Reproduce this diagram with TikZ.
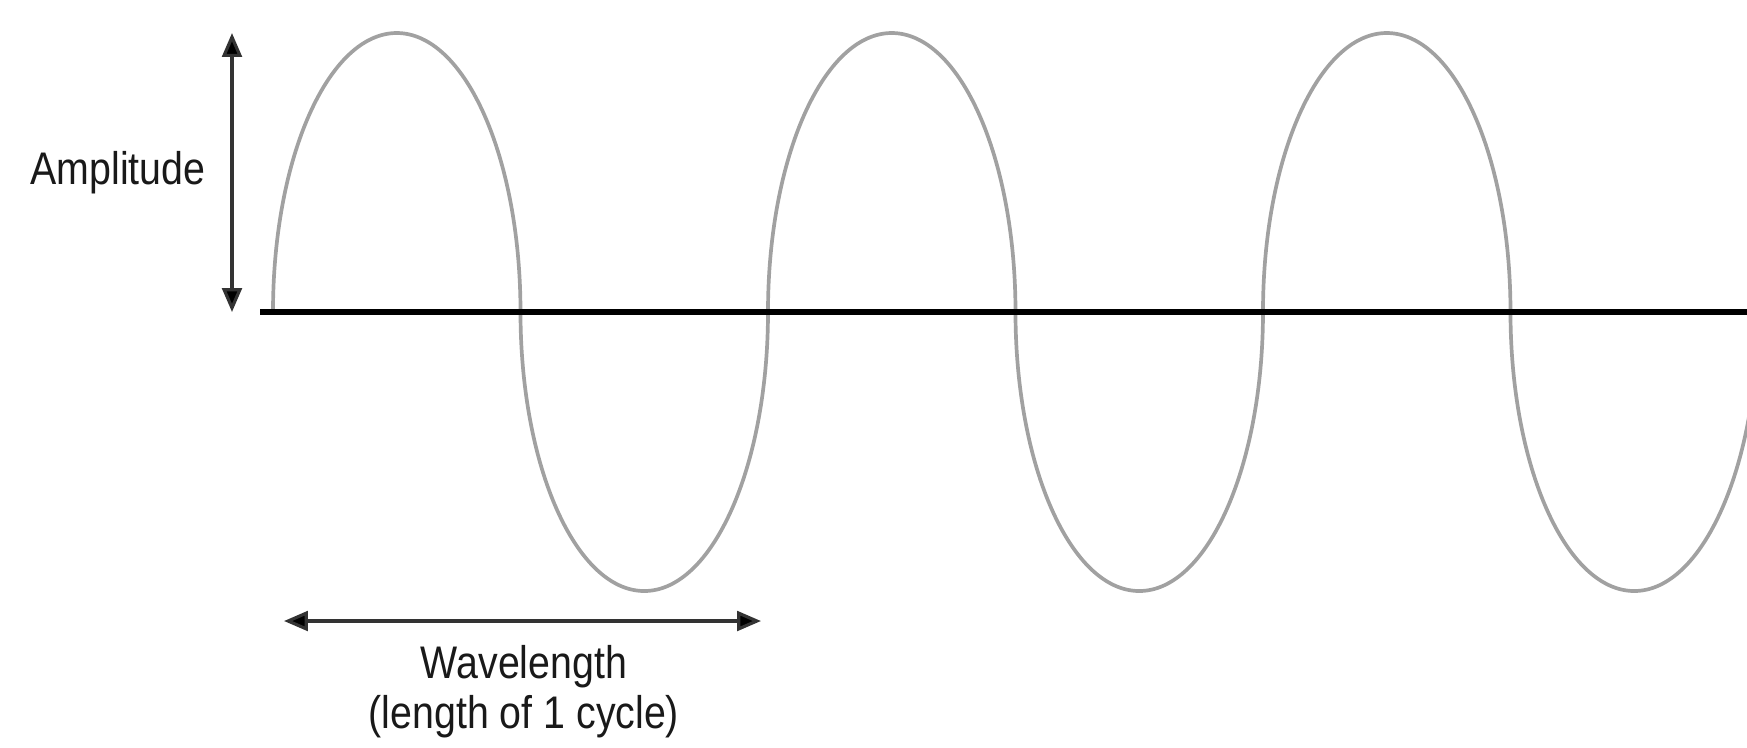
\documentclass[tikz,border=0pt]{standalone}
\usepackage{fontspec}
\usepackage{graphicx}
\setmainfont{Liberation Sans}
\usetikzlibrary{arrows.meta}
\newcommand{\cond}[1]{\scalebox{0.86}[1]{#1}}
\tikzset{
  wave/.style={draw=black!37, line width=1.05pt, line join=round},
  axisline/.style={draw=black, line width=1.7pt},
  dimarrow/.style={draw=black!80, line width=0.9pt, {Triangle[length=6.8pt,width=5.6pt,fill=black]}-{Triangle[length=6.8pt,width=5.6pt,fill=black]}},
  lbl/.style={text=black!90, font=\fontsize{13}{15}\selectfont, inner sep=0pt}
}
\begin{document}
\begin{tikzpicture}[x=0.01cm,y=-0.01cm]
\useasboundingbox (0,0) rectangle (1747,747);
\begin{scope}
\clip (0,0) rectangle (1747,747);
\coordinate (w0) at (273,312);
\draw[wave] (w0)
  \foreach \xa/\s in {273/1, 520.5/-1, 768/1, 1015.5/-1, 1263/1, 1510.5/-1, 1758/1} {
    .. controls ({\xa}, {312-\s*154.1}) and ({\xa+123.75-68.35}, {312-\s*279}) .. ({\xa+123.75}, {312-\s*279})
    .. controls ({\xa+123.75+68.35}, {312-\s*279}) and ({\xa+247.5}, {312-\s*154.1}) .. ({\xa+247.5}, 312)
  };
\end{scope}
\coordinate (bl) at (260,312);
\coordinate (br) at (1747,312);
\draw[axisline] (bl) -- (br);
\coordinate (atop) at (232,33);
\coordinate (abot) at (232,312);
\draw[dimarrow] (atop) -- (abot);
\coordinate (wl) at (284,621);
\coordinate (wr) at (761,621);
\draw[dimarrow] (wl) -- (wr);
\node[lbl] (amp) at (118,173) {\cond{Amplitude}};
\node[lbl] (wav) at (524,667) {\cond{Wavelength}};
\node[lbl] (cyc) at (524,717) {\cond{(length of 1 cycle)}};
\end{tikzpicture}
\end{document}
